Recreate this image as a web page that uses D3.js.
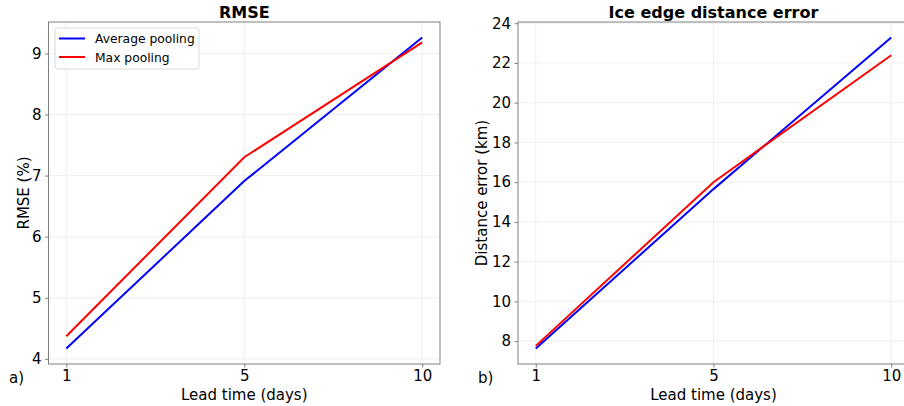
<!DOCTYPE html>
<html>
<head>
<meta charset="utf-8">
<script src="https://cdn.jsdelivr.net/npm/d3@7"></script>
<style>
  body { margin: 0; background: #fff; }
  text { font-family: "DejaVu Sans", sans-serif; fill: #000; }
</style>
</head>
<body>
<div id="chart"></div>
<script>
// lead times (days), plotted at equally spaced positions
var leadTimes = [1, 5, 10];
// RMSE (%)
var rmseAvg = [4.17, 6.91, 9.26];
var rmseMax = [4.37, 7.30, 9.18];
// ice edge distance error (km)
var distAvg = [7.63, 15.65, 23.28];
var distMax = [7.76, 16.0, 22.39];
var rmseTicks = [4, 5, 6, 7, 8, 9];
var distTicks = [8, 10, 12, 14, 16, 18, 20, 22, 24];
var seriesNames = ["Average pooling", "Max pooling"];
var seriesColors = ["#0000ff", "#ff0000"];

var width = 904, height = 406;
var svg = d3.select('#chart').append('svg')
      .attr('width', width)
      .attr('height', height);

function padDomain(vals) {
      var lo = d3.min(vals), hi = d3.max(vals), m = (hi - lo) * 0.05;
      return [lo - m, hi + m];
}

function drawPanel(opts) {
      var idx = d3.range(leadTimes.length);
      var x = d3.scaleLinear().domain(padDomain(idx)).range([opts.left, opts.right]);
      var y = d3.scaleLinear().domain(padDomain(opts.a.concat(opts.b))).range([opts.bottom, opts.top]);
      var g = svg.append('g');

      //grid
      g.selectAll('.gx').data(idx).enter().append('line')
            .attr('x1', d => x(d)).attr('x2', d => x(d))
            .attr('y1', opts.top).attr('y2', opts.bottom)
            .style('stroke', '#ebebeb').style('stroke-width', 0.8);
      g.selectAll('.gy').data(opts.yTicks).enter().append('line')
            .attr('x1', opts.left).attr('x2', opts.right)
            .attr('y1', d => y(d)).attr('y2', d => y(d))
            .style('stroke', '#ebebeb').style('stroke-width', 0.8);

      //axes
      var xAxis = g.append('g').attr('transform', 'translate(0,' + opts.bottom + ')')
            .call(d3.axisBottom(x).tickValues(idx).tickSize(3.5).tickPadding(3).tickFormat(i => leadTimes[i]));
      var yAxis = g.append('g').attr('transform', 'translate(' + opts.left + ',0)')
            .call(d3.axisLeft(y).tickValues(opts.yTicks).tickSize(3.5).tickPadding(3.5).tickFormat(d3.format('d')));
      [xAxis, yAxis].forEach(function (ax) {
            ax.select('.domain').remove();
            ax.selectAll('line').style('stroke', '#808080');
            ax.selectAll('text').style('font-size', '15px').style('font-family', '"DejaVu Sans", sans-serif').style('fill', '#000');
      });

      //frame
      g.append('rect')
            .attr('x', opts.left).attr('y', opts.top)
            .attr('width', opts.right - opts.left).attr('height', opts.bottom - opts.top)
            .style('fill', 'none').style('stroke', '#808080').style('stroke-width', 1);

      //lines
      var line = d3.line().x((d, i) => x(i)).y(d => y(d));
      [opts.a, opts.b].forEach(function (vals, i) {
            g.append('path').attr('d', line(vals))
                  .style('fill', 'none').style('stroke', seriesColors[i]).style('stroke-width', 2);
      });

      //labels
      var cx = (opts.left + opts.right) / 2;
      g.append('text').attr('x', cx).attr('y', 17.5).attr('text-anchor', 'middle')
            .style('font-size', '16px').style('font-weight', 'bold').text(opts.title);
      g.append('text').attr('x', cx).attr('y', 399.5).attr('text-anchor', 'middle')
            .style('font-size', '15px').text('Lead time (days)');
      g.append('text')
            .attr('transform', 'translate(' + opts.ylabelX + ',' + (opts.top + opts.bottom) / 2 + ') rotate(-90)')
            .attr('text-anchor', 'middle').style('font-size', '15px').text(opts.ylabel);
      g.append('text').attr('x', opts.tagX).attr('y', 383)
            .style('font-size', '15px').text(opts.tag);
      return g;
}

drawPanel({ left: 48.5, right: 440, top: 22, bottom: 364, a: rmseAvg, b: rmseMax, yTicks: rmseTicks,
      title: 'RMSE', ylabel: 'RMSE (%)', ylabelX: 28.5, tag: 'a)', tagX: 9 });
drawPanel({ left: 518, right: 909, top: 22, bottom: 364, a: distAvg, b: distMax, yTicks: distTicks,
      title: 'Ice edge distance error', ylabel: 'Distance error (km)', ylabelX: 487, tag: 'b)', tagX: 478 });

//legend
var lg = svg.append('g');
lg.append('rect').attr('x', 55).attr('y', 28).attr('width', 144).attr('height', 41).attr('rx', 3)
      .style('fill', '#fff').style('fill-opacity', 0.8).style('stroke', '#d9d9d9').style('stroke-width', 1);
seriesNames.forEach(function (name, i) {
      var yy = 38.5 + i * 18.5;
      lg.append('line').attr('x1', 59).attr('x2', 85).attr('y1', yy).attr('y2', yy)
            .style('stroke', seriesColors[i]).style('stroke-width', 2);
      lg.append('text').attr('x', 95).attr('y', yy + 4.5).style('font-size', '12.3px').text(name);
});
</script>
</body>
</html>
